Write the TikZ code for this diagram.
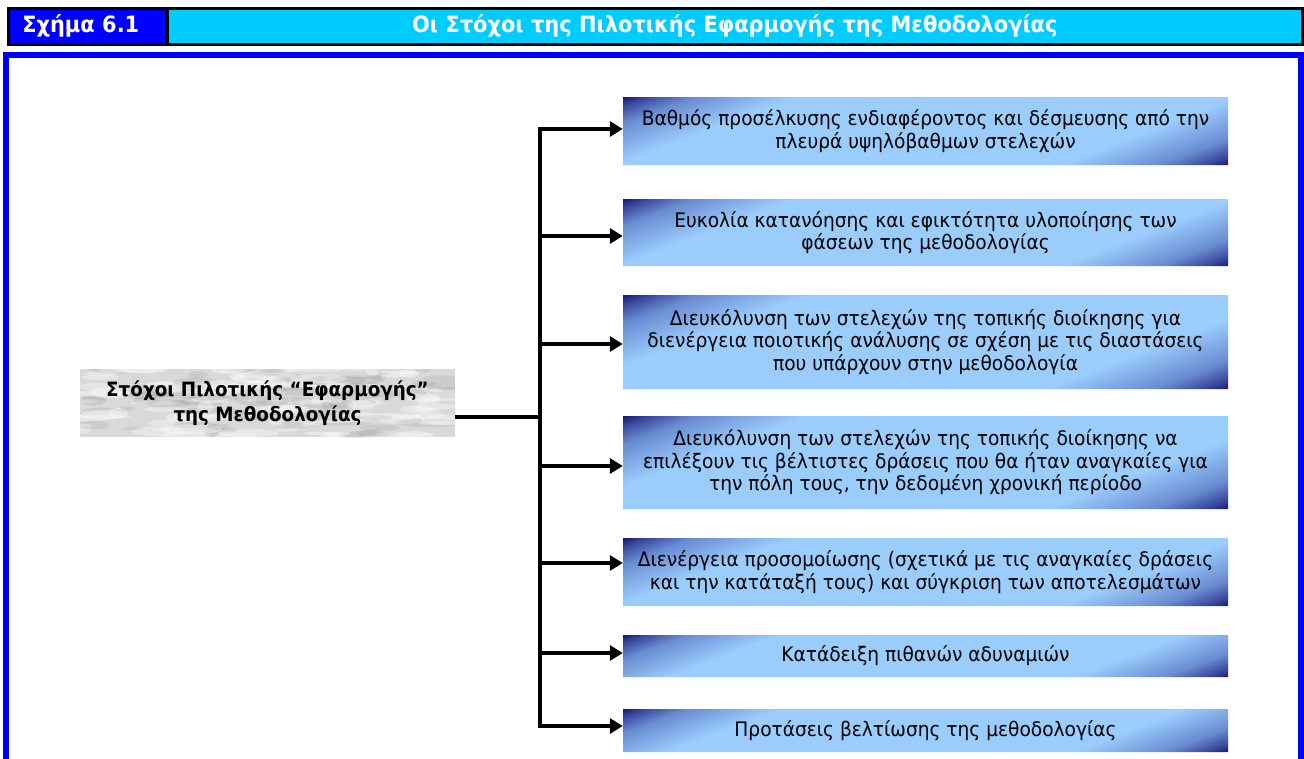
\documentclass[tikz,border=0pt]{standalone}
\usepackage{fontspec}
\setmainfont{DejaVu Sans}[FakeStretch=0.93]
\usetikzlibrary{arrows.meta}
\definecolor{navyd}{HTML}{18186C}
\definecolor{dkb}{HTML}{3A4A9E}
\definecolor{midb}{HTML}{6A8CD2}
\definecolor{lightb}{HTML}{9ACCFC}
\definecolor{hdrblue}{HTML}{0000FF}
\definecolor{hdrcyan}{HTML}{00CCFF}
\definecolor{marble}{HTML}{D9D9D9}
\pgfdeclarehorizontalshading{boxshade}{100bp}{color(0bp)=(navyd); color(25bp)=(navyd); color(26.6bp)=(dkb); color(29.5bp)=(midb); color(35.8bp)=(lightb); color(64.2bp)=(lightb); color(70.5bp)=(midb); color(73.4bp)=(dkb); color(75bp)=(navyd); color(100bp)=(navyd)}
\pgfmathsetseed{11}
% shaded goal box: name, centre y, height, text
\newcommand\goalrow[4]{%
  \begin{scope}
    \clip (623,#2-#3/2) rectangle (1228,#2+#3/2);
    \begin{scope}[transform canvas={shift={(925.5,#2)}, xslant=2.6}]
      \shade[shading=boxshade] (-302.5-1.3*#3,-#3/2) rectangle (302.5+1.3*#3,#3/2);
    \end{scope}
  \end{scope}
  \node[goalbox=#3pt] (#1) at (925.5,#2) {#4};}
\begin{document}
\begin{tikzpicture}[x=1pt,y=-1pt,
  goalbox/.style={draw=none, minimum width=605pt, minimum height=#1,
    inner sep=0pt, align=center, font=\fontsize{20}{22.5}\selectfont, text=black},
  conn/.style={line width=3.5pt, black},
  arr/.style={conn, -{Triangle[length=13pt,width=15pt]}},
  hdrcell/.style={draw=black, line width=2.5pt, minimum height=36pt, inner sep=0pt,
    anchor=north west, text=white, font=\fontsize{22.5}{26}\selectfont\bfseries},
  frameline/.style={hdrblue, line width=5.5pt},
  marblebox/.style={fill=marble, minimum width=375pt, minimum height=68pt, inner sep=0pt,
    align=center, font=\fontsize{19.7}{25}\selectfont\bfseries, text=black,
    path picture={
      \foreach \i in {1,...,170}{
        \pgfmathsetmacro\px{rnd*375}\pgfmathsetmacro\py{rnd*68}
        \pgfmathsetmacro\ang{rnd*80-40}\pgfmathsetmacro\rx{6+rnd*26}\pgfmathsetmacro\ry{1.5+rnd*4}
        \pgfmathsetmacro\shade{rnd>0.45 ? 1 : 0}
        \path ([shift={(\px,\py)}]path picture bounding box.north west) coordinate (mp);
        \ifdim\shade pt>0.5pt
          \fill[white, opacity=0.35, rotate around={\ang:(mp)}] (mp) ellipse [x radius=\rx pt, y radius=\ry pt];
        \else
          \fill[black!50, opacity=0.15, rotate around={\ang:(mp)}] (mp) ellipse [x radius=\rx pt, y radius=\ry pt];
        \fi
      }
    }},
 ]
\useasboundingbox (0,0) rectangle (1304,758);
\fill[white] (0,0) rectangle (1304,758);

% header
\node[hdrcell, fill=hdrblue, minimum width=159pt, text width=159pt, align=left] (hfig) at (7,7)
  {\hspace*{14pt}Σχήμα 6.1};
\node[hdrcell, fill=hdrcyan, minimum width=1135pt, text width=1135pt, align=center] (htitle) at (166,7)
  {Οι Στόχοι της Πιλοτικής Εφαρμογής της Μεθοδολογίας};

% frame
\draw[frameline] (6,772) -- (6,55) -- (1301,55) -- (1301,772);

% left node
\node[marblebox] (goal) at (267.5,403) {Στόχοι Πιλοτικής “Εφαρμογής”\\της Μεθοδολογίας};

% goal boxes
\goalrow{b1}{131}{68}{Βαθμός προσέλκυσης ενδιαφέροντος και δέσμευσης από την\\πλευρά υψηλόβαθμων στελεχών}
\goalrow{b2}{232.5}{67}{Ευκολία κατανόησης και εφικτότητα υλοποίησης των\\φάσεων της μεθοδολογίας}
\goalrow{b3}{342}{94}{Διευκόλυνση των στελεχών της τοπικής διοίκησης για\\διενέργεια ποιοτικής ανάλυσης σε σχέση με τις διαστάσεις\\που υπάρχουν στην μεθοδολογία}
\goalrow{b4}{462.5}{93}{Διευκόλυνση των στελεχών της τοπικής διοίκησης να\\επιλέξουν τις βέλτιστες δράσεις που θα ήταν αναγκαίες για\\την πόλη τους, την δεδομένη χρονική περίοδο}
\goalrow{b5}{572}{68}{Διενέργεια προσομοίωσης (σχετικά με τις αναγκαίες δράσεις\\και την κατάταξή τους) και σύγκριση των αποτελεσμάτων}
\goalrow{b6}{656}{42}{Κατάδειξη πιθανών αδυναμιών}
\goalrow{b7}{730.5}{43}{Προτάσεις βελτίωσης της μεθοδολογίας}

% connectors
\coordinate (j) at (540,417);
\coordinate (t1) at (540,129);
\coordinate (t2) at (540,236);
\coordinate (t3) at (540,344);
\coordinate (t4) at (540,466);
\coordinate (t5) at (540,563);
\coordinate (t6) at (540,653);
\coordinate (t7) at (540,726);
\draw[conn] (goal.east |- j) -- (j);
\draw[conn, line cap=rect] (t1) -- (t7);
\foreach \k in {1,...,7}{
  \draw[arr] (t\k) -- (b\k.west |- t\k);
}
\end{tikzpicture}
\end{document}
